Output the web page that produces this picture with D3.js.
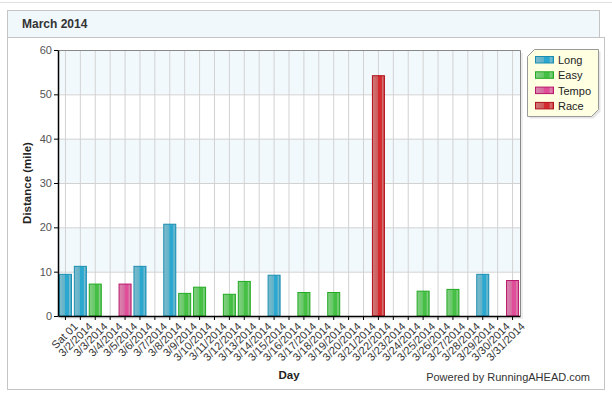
<!DOCTYPE html>
<html>
<head>
<meta charset="utf-8">
<script src="https://cdn.jsdelivr.net/npm/d3@7"></script>
<style>
  body { margin: 0; background: #fff; }
  svg { display: block; font-family: "Liberation Sans", Arial, sans-serif; }
</style>
</head>
<body>
<svg id="chart" width="612" height="396"></svg>
<script>
// day labels along the x axis
const days = ["Sat 01"];
for (let d = 2; d <= 31; d++) days.push("3/" + d + "/2014");

// miles per day, one array per run type (0 = no run)
const longRuns  = [9.4,11.2,0,0,0,11.2,0,20.7,0,0,0,0,0,0,9.2,0,0,0,0,0,0,0,0,0,0,0,0,0,9.4,0,0];
const easyRuns  = [0,0,7.2,0,0,0,0,0,5.1,6.5,0,4.9,7.8,0,0,0,5.3,0,5.3,0,0,0,0,0,5.6,0,6.0,0,0,0,0];
const tempoRuns = [0,0,0,0,7.2,0,0,0,0,0,0,0,0,0,0,0,0,0,0,0,0,0,0,0,0,0,0,0,0,0,8.0];
const raceRuns  = [0,0,0,0,0,0,0,0,0,0,0,0,0,0,0,0,0,0,0,0,0,54.2,0,0,0,0,0,0,0,0,0];

const seriesNames = ["Long", "Easy", "Tempo", "Race"];
const seriesData = [longRuns, easyRuns, tempoRuns, raceRuns];
const yTicks = [0, 10, 20, 30, 40, 50, 60];

// gradient colours: [left, mid, right, stroke]
const colors = {
  Long:  ["#80bccd", "#5fb2c9", "#2aa8cf", "#1a8db0"],
  Easy:  ["#86cf86", "#66c866", "#45c045", "#22aa22"],
  Tempo: ["#d88ab0", "#d66aa2", "#e04d98", "#b8166a"],
  Race:  ["#d07a7a", "#cc5a5a", "#d42a30", "#b0101a"]
};

const svg = d3.select("#chart");
const defs = svg.append("defs");

seriesNames.forEach(name => {
  const c = colors[name];
  const g = defs.append("linearGradient").attr("id", "grad-" + name)
    .attr("x1", 0).attr("x2", 1).attr("y1", 0).attr("y2", 0);
  [[0, c[0]], [0.45, c[1]], [0.5, c[2]], [0.75, c[2]], [0.85, c[0]], [1, c[2]]]
    .forEach(s => g.append("stop").attr("offset", s[0]).attr("stop-color", s[1]));
});

// frame
svg.append("line").attr("x1", 0).attr("x2", 612).attr("y1", 2.5).attr("y2", 2.5)
  .attr("stroke", "#e0e0e0");
svg.append("rect").attr("x", 7.5).attr("y", 37.5).attr("width", 597).attr("height", 352)
  .attr("fill", "#fff").attr("stroke", "#c4c4c4");
svg.append("rect").attr("x", 7.5).attr("y", 10.5).attr("width", 592).attr("height", 27)
  .attr("fill", "#f1f8fc").attr("stroke", "#c4c4c4");
svg.append("text").attr("x", 22).attr("y", 28).text("March 2014")
  .attr("font-size", 12).attr("font-weight", "bold").attr("fill", "#333");

const margin = { top: 50, right: 92, bottom: 80, left: 58 };
const width = 612 - margin.left - margin.right;
const height = 396 - margin.top - margin.bottom;

const x = d3.scaleBand().domain(days).range([0, width]).padding(0);
const y = d3.scaleLinear().domain([0, 60]).range([height, 0]);

const g = svg.append("g").attr("transform", "translate(" + margin.left + "," + margin.top + ")");

// drop shadow
g.append("rect").attr("x", 3).attr("y", 3).attr("width", width).attr("height", height)
  .attr("fill", "#eee");
g.append("rect").attr("width", width).attr("height", height).attr("fill", "#fff");

// alternating bands
for (let i = 0; i < yTicks.length - 1; i += 2) {
  g.append("rect")
    .attr("x", 0).attr("width", width)
    .attr("y", y(yTicks[i + 2] || 60)).attr("height", y(yTicks[i + 1]) - y(yTicks[i + 2] || 60))
    .attr("fill", "#f2f9fd");
}

// grid
g.selectAll(".vgrid").data(days).enter().append("line")
  .attr("x1", d => x(d) + x.bandwidth() / 2).attr("x2", d => x(d) + x.bandwidth() / 2)
  .attr("y1", 0).attr("y2", height).attr("stroke", "#d2d2d2");
g.selectAll(".hgrid").data(yTicks.slice(1, -1)).enter().append("line")
  .attr("x1", 0).attr("x2", width)
  .attr("y1", d => y(d) + 0.5).attr("y2", d => y(d) + 0.5).attr("stroke", "#d2d2d2");

// top and right border
g.append("path").attr("d", "M0,0.5H" + (width + 0.5) + "V" + height)
  .attr("fill", "none").attr("stroke", "#888");

// bars
const barW = 12;
seriesNames.forEach((name, si) => {
  const vals = seriesData[si];
  g.selectAll(".bar-" + name)
    .data(days.map((d, i) => ({ day: d, v: vals[i] })).filter(d => d.v > 0))
    .enter().append("rect")
    .attr("x", d => x(d.day) + x.bandwidth() / 2 - barW / 2)
    .attr("width", barW)
    .attr("y", d => y(d.v))
    .attr("height", d => y(0) - y(d.v))
    .attr("fill", "url(#grad-" + name + ")")
    .attr("stroke", colors[name][3]);
});

// axes
const xAxis = g.append("g").attr("transform", "translate(0," + height + ")")
  .call(d3.axisBottom(x).tickSizeInner(4).tickSizeOuter(0));
xAxis.select(".domain").attr("stroke", "#000").attr("stroke-width", 1.5);
xAxis.selectAll(".tick line").attr("stroke", "#000");
xAxis.selectAll("text")
  .attr("font-size", 11).attr("font-family", "Liberation Sans, Arial, sans-serif")
  .attr("fill", "#333")
  .attr("text-anchor", "end")
  .attr("transform", "translate(4,2) rotate(-45)")
  .attr("dy", "0.71em").attr("y", 5).attr("x", 0);

const yAxis = g.append("g").call(d3.axisLeft(y).tickValues(yTicks).tickSizeInner(4).tickSizeOuter(0));
yAxis.select(".domain").attr("stroke", "#000").attr("stroke-width", 1.5);
yAxis.selectAll(".tick line").attr("stroke", "#000");
yAxis.selectAll("text").attr("font-size", 11).attr("fill", "#555")
  .attr("font-family", "Liberation Sans, Arial, sans-serif").attr("x", -6);

// axis titles
svg.append("text").attr("x", margin.left + width / 2).attr("y", 379)
  .attr("text-anchor", "middle").attr("font-size", 11.5).attr("font-weight", "bold")
  .attr("fill", "#222").text("Day");
svg.append("text").attr("transform", "translate(31," + (margin.top + height / 2) + ") rotate(-90)")
  .attr("text-anchor", "middle").attr("font-size", 11.5).attr("font-weight", "bold")
  .attr("fill", "#222").text("Distance (mile)");
svg.append("text").attr("x", 590).attr("y", 381).attr("text-anchor", "end")
  .attr("font-size", 11).attr("fill", "#333").text("Powered by RunningAHEAD.com");

// legend
const lx = 527.5, ly = 49.5, lw = 71, lh = 67, ch = 7;
const legendPath = "M" + (lx + ch) + "," + ly + "H" + (lx + lw) + "V" + (ly + lh - ch) +
  "L" + (lx + lw - ch) + "," + (ly + lh) + "H" + lx + "V" + (ly + ch) + "Z";
svg.append("path").attr("d", legendPath).attr("transform", "translate(2,2)").attr("fill", "#e4e4e4");
svg.append("path").attr("d", legendPath).attr("fill", "#ffffe2").attr("stroke", "#999");
const leg = svg.selectAll(".leg").data(seriesNames).enter().append("g")
  .attr("transform", (d, i) => "translate(535," + (56 + i * 15.3) + ")");
leg.append("rect").attr("x", 0.5).attr("y", 0.5).attr("width", 18).attr("height", 6.5)
  .attr("fill", d => "url(#grad-" + d + ")").attr("stroke", d => colors[d][3]);
leg.append("text").attr("x", 23).attr("y", 8).attr("font-size", 11).attr("fill", "#222").text(d => d);
</script>
</body>
</html>
